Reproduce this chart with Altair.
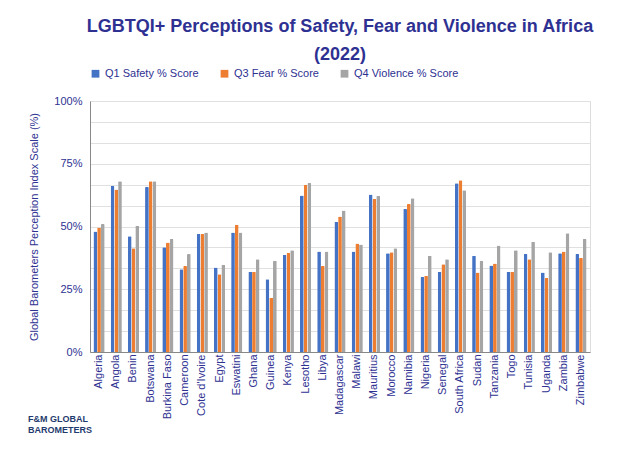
import altair as alt
import pandas as pd

countries = ["Algeria", "Angola", "Benin", "Botswana", "Burkina Faso", "Cameroon",
             "Cote d'Ivoire", "Egypt", "Eswatini", "Ghana", "Guinea", "Kenya",
             "Lesotho", "Libya", "Madagascar", "Malawi", "Mauritius", "Morocco",
             "Namibia", "Nigeria", "Senegal", "South Africa", "Sudan", "Tanzania",
             "Togo", "Tunisia", "Uganda", "Zambia", "Zimbabwe"]
q1_safety = [48, 66.1, 46.1, 65.7, 41.7, 33, 47, 33.7, 47.6, 32, 29, 38.7, 62.4, 40, 51.9,
             40, 62.7, 39.3, 57, 29.9, 32, 67.2, 38.3, 34.5, 32, 39, 31.7, 39.3, 39]
q3_fear = [49.6, 64.7, 41.3, 68, 43.6, 34.3, 47, 31, 50.7, 32, 21.6, 39.5, 66.5, 34.3, 54,
           43.2, 61, 39.7, 59, 30.4, 35, 68.4, 31.7, 35.3, 32, 37, 29.5, 40, 37.5]
q4_violence = [51, 68, 50.3, 68, 45, 39, 47.6, 34.8, 47.6, 37, 36.4, 40.5, 67.3, 40, 56.4,
               42.8, 62.3, 41.3, 61.3, 38.3, 37, 64.4, 36.4, 42.4, 40.5, 43.9, 39.7, 47.3, 45]
series = ["Q1 Safety % Score", "Q3 Fear % Score", "Q4 Violence % Score"]
colors = ["#4472C4", "#ED7D31", "#A5A5A5"]
logo_lines = ["F&M GLOBAL", "BAROMETERS"]

rows = []
for i, c in enumerate(countries):
    for s, vals in zip(series, [q1_safety, q3_fear, q4_violence]):
        rows.append({"Country": c, "Series": s, "Value": vals[i] / 100})
df = pd.DataFrame(rows)

blue = "#2E3192"
grid_vals = [i / 12 for i in range(13)]

bars = alt.Chart(df).mark_bar(cornerRadiusTopLeft=1, cornerRadiusTopRight=1).encode(
    x=alt.X("Country:N", sort=countries, title=None,
            scale=alt.Scale(paddingInner=0.35, paddingOuter=0.2),
            axis=alt.Axis(labelAngle=-90, labelColor=blue, labelFontSize=11,
                          labelFont="Arial", ticks=False, domainColor="#888")),
    xOffset=alt.XOffset("Series:N", sort=series),
    y=alt.Y("Value:Q", scale=alt.Scale(domain=[0, 1]),
            title="Global Barometers Perception Index Scale (%)",
            axis=alt.Axis(values=grid_vals, ticks=False, gridColor="#e0e0e0",
                          domainColor="#888", labelColor=blue, labelFontSize=11,
                          labelPadding=8, titlePadding=14,
                          titleColor=blue, titleFontWeight="normal", titleFontSize=11,
                          labelExpr="indexof([0,3,6,9,12], round(datum.value*12)) >= 0 ? format(datum.value, '.0%') : ''")),
    color=alt.Color("Series:N", sort=series,
                    scale=alt.Scale(domain=series, range=colors),
                    legend=alt.Legend(orient="top", title=None, symbolType="square",
                                      labelColor=blue, labelFontSize=11, columnPadding=20,
                                      symbolSize=60, offset=22)),
)

logo = alt.Chart(pd.DataFrame({"t": logo_lines, "y": [318, 329]})).mark_text(
    align="left", fontWeight="bold", fontSize=9, color="#1F3A6E", clip=False
).encode(x=alt.value(-62), y=alt.Y("y:Q", scale=None), text="t:N")

chart = alt.layer(bars, logo).properties(
    width=500, height=251,
    padding={"left": 20, "top": 10, "right": 5, "bottom": 5},
    title=alt.TitleParams(["LGBTQI+ Perceptions of Safety, Fear and Violence in Africa", "(2022)"],
                          color=blue, fontSize=18, font="Arial", fontWeight="bold",
                          lineHeight=28, offset=4),
).configure_view(stroke=None).configure(font="Arial")

chart.save("out.html", embed_options={"renderer": "svg", "actions": False})
